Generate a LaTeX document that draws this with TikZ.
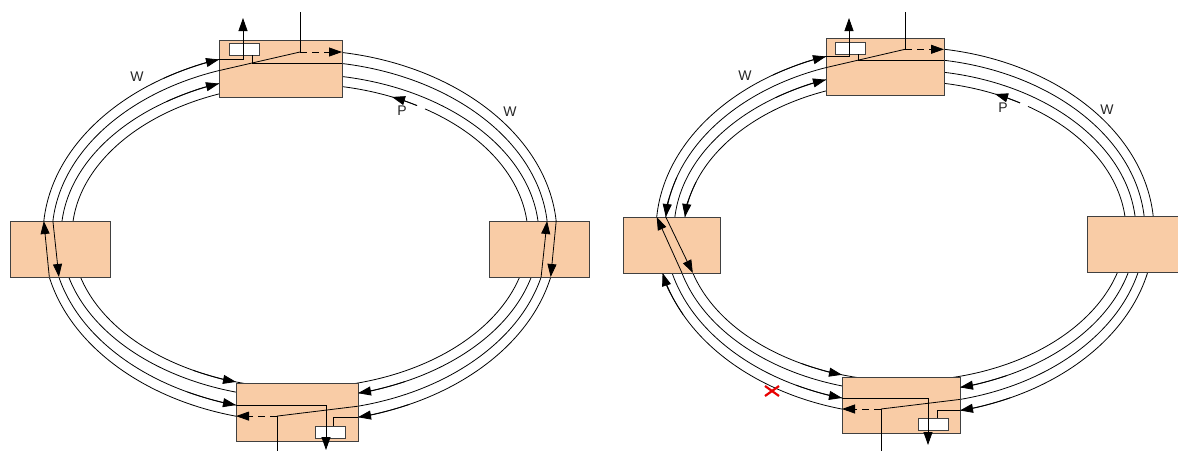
\documentclass[tikz,border=0pt]{standalone}
\usepackage{fontspec}
\setmainfont{Liberation Sans}
\usetikzlibrary{arrows.meta}
\definecolor{peach}{RGB}{249,204,166}
\definecolor{cutred}{RGB}{232,0,0}

\begin{document}
\begin{tikzpicture}[x=1pt, y=-1pt,
  site/.style={draw=black!75, fill=peach, line width=0.8pt, inner sep=0pt, outer sep=0pt},
  sel/.style={draw=black!75, fill=white, line width=0.8pt, minimum width=30pt, minimum height=12pt, inner sep=0pt, outer sep=0pt},
  fibre/.style={line width=0.8pt},
  sig/.style={-{Triangle[length=13pt,width=9pt]}},
  tribdash/.style={dash pattern=on 7pt off 5pt},
  lbl/.style={font=\fontsize{14}{16}\selectfont, text=black!85}]

\clip (0,0) rectangle (1178,451);

% first ring
\coordinate (c1) at (300,236);
\draw[fibre] (c1) ellipse [x radius=257, y radius=186];
\draw[fibre] (c1) ellipse [x radius=248, y radius=175];
\draw[fibre] (c1) ellipse [x radius=239, y radius=162];
\draw[fibre] (c1) ++(303.25:228 and 152) arc[start angle=303.25, end angle=660.87, x radius=228, y radius=152];

\node[site, minimum width=123pt, minimum height=57pt] (top1) at (280.5,68.5) {};
\node[site, minimum width=100pt, minimum height=56pt] (left1) at (60,249) {};
\node[site, minimum width=100pt, minimum height=56pt] (right1) at (539,249) {};
\node[site, minimum width=122pt, minimum height=58pt] (bottom1) at (297,412) {};

\draw[fibre,sig] (c1) ++(238:257 and 186) arc[start angle=238, end angle=251.63, x radius=257, y radius=186];
\draw[fibre,sig] (c1) ++(236:239 and 162) arc[start angle=236, end angle=250.19, x radius=239, y radius=162];
\draw[fibre,sig] (c1) ++(300.87:228 and 152) arc[start angle=300.87, end angle=293.8, x radius=228, y radius=152];
\draw[fibre,sig] (c1) ++(118:228 and 152) arc[start angle=118, end angle=106.3, x radius=228, y radius=152];
\draw[fibre,sig] (c1) ++(117:248 and 175) arc[start angle=117, end angle=104.96, x radius=248, y radius=175];
\draw[fibre,sig] (c1) ++(64:239 and 162) arc[start angle=64, end angle=75.96, x radius=239, y radius=162];
\draw[fibre,sig] (c1) ++(65:257 and 186) arc[start angle=65, end angle=76.96, x radius=257, y radius=186];

% top node of first ring
\node[sel] (sel1) at (244,49) {};
\coordinate (add1) at (300,52);
\draw[fibre] (top1.east |- 0,63.5) -| ([xshift=8pt]sel1.south);
\draw[fibre,sig] (top1.west |- 0,59.5) -| (243,18);
\draw[fibre] (add1) -- (add1 |- 0,12);
\draw[fibre] (add1) -- (top1.west |- 0,70.6);
\draw[fibre,sig,tribdash] (add1) -- (top1.east |- add1);

% side nodes of first ring
\draw[fibre,sig] (left1.south -| 49.3,0) -- (left1.north -| 43.8,0);
\draw[fibre,sig] (left1.north -| 52.9,0) -- (left1.south -| 58.9,0);
\draw[fibre,sig] (right1.south -| 541.1,0) -- (right1.north -| 547.1,0);
\draw[fibre,sig] (right1.north -| 556.2,0) -- (right1.south -| 550.7,0);

% bottom node of first ring
\node[sel] (sel2) at (330.5,432) {};
\coordinate (add2) at (277,416.1);
\draw[fibre] (bottom1.east |- 0,417.2) -| ([xshift=2.5pt]sel2.north);
\draw[fibre,sig] (bottom1.west |- 0,405.1) -| (326,450);
\draw[fibre] (add2) -- (add2 |- 0,451);
\draw[fibre] (add2) -- (bottom1.east |- 0,406.2);
\draw[fibre,sig,tribdash] (add2) -- (bottom1.west |- add2);

\node[lbl] (w1) at (137,77) {W};
\node[lbl] (p1) at (402,111) {P};
\node[lbl] (w2) at (510,112) {W};

% second ring, span between left and bottom node cut
\coordinate (c2) at (905,231);
\draw[fibre] (c2) ellipse [x radius=249, y radius=184];
\draw[fibre] (c2) ellipse [x radius=240, y radius=173];
\draw[fibre] (c2) ellipse [x radius=231, y radius=161];
\draw[fibre] (c2) ++(303.82:221 and 150) arc[start angle=303.82, end angle=661.36, x radius=221, y radius=150];

\node[site, minimum width=118pt, minimum height=57pt] (top2) at (885,66.5) {};
\node[site, minimum width=97pt, minimum height=56pt] (left2) at (671.5,245) {};
\node[site, minimum width=100pt, minimum height=56pt] (right2) at (1137,244) {};
\node[site, minimum width=118pt, minimum height=56pt] (bottom2) at (901,405) {};

\draw[fibre,sig] (c2) ++(238:249 and 184) arc[start angle=238, end angle=251.5, x radius=249, y radius=184];
\draw[fibre,sig] (c2) ++(236:231 and 161) arc[start angle=236, end angle=250.0, x radius=231, y radius=161];
\draw[fibre,sig] (c2) ++(301.36:221 and 150) arc[start angle=301.36, end angle=294.03, x radius=221, y radius=150];
\draw[fibre,sig] (c2) ++(118:221 and 150) arc[start angle=118, end angle=106.56, x radius=221, y radius=150];
\draw[fibre,sig] (c2) ++(117:240 and 173) arc[start angle=117, end angle=105.22, x radius=240, y radius=173];
\draw[fibre,sig] (c2) ++(64:231 and 161) arc[start angle=64, end angle=76.23, x radius=231, y radius=161];
\draw[fibre,sig] (c2) ++(65:249 and 184) arc[start angle=65, end angle=77.24, x radius=249, y radius=184];
\draw[fibre,sig] (c2) ++(198:240 and 173) arc[start angle=198, end angle=184.64, x radius=240, y radius=173];
\draw[fibre,sig] (c2) ++(199:221 and 150) arc[start angle=199, end angle=185.36, x radius=221, y radius=150];
\draw[fibre,sig] (c2) ++(153:249 and 184) arc[start angle=153, end angle=166.8, x radius=249, y radius=184];

% top node of second ring
\node[sel] (sel3) at (850.5,48) {};
\coordinate (add3) at (905,49.3);
\draw[fibre] (top2.east |- 0,60.3) -| ([xshift=7.5pt]sel3.south);
\draw[fibre,sig] (top2.west |- 0,56.5) -| (849,18);
\draw[fibre] (add3) -- (add3 |- 0,12);
\draw[fibre] (add3) -- (top2.west |- 0,67.6);
\draw[fibre,sig,tribdash] (add3) -- (top2.east |- add3);

% loop-back in left node of second ring
\draw[fibre,sig] (left2.south -| 682,0) -- (left2.north -| 656.7,0);
\draw[fibre,sig] (left2.north -| 665.8,0) -- (left2.south -| 692.8,0);

% bottom node of second ring
\node[sel] (sel4) at (933,424) {};
\coordinate (add4) at (881,409);
\draw[fibre] (bottom2.east |- 0,410.5) -| ([xshift=4pt]sel4.north);
\draw[fibre,sig] (bottom2.west |- 0,397.9) -| (928,445);
\draw[fibre] (add4) -- (add4 |- 0,451);
\draw[fibre] (add4) -- (bottom2.east |- 0,399.4);
\draw[fibre,sig,tribdash] (add4) -- (bottom2.west |- add4);

\coordinate (cut) at (772,391);
\draw[cutred, line width=2.2pt] ([shift={(-7,-5)}]cut) -- ([shift={(7,5)}]cut);
\draw[cutred, line width=2.2pt] ([shift={(-7,5)}]cut) -- ([shift={(7,-5)}]cut);

\node[lbl] (w3) at (745,76) {W};
\node[lbl] (p2) at (1003,108) {P};
\node[lbl] (w4) at (1107,110) {W};
\end{tikzpicture}
\end{document}
